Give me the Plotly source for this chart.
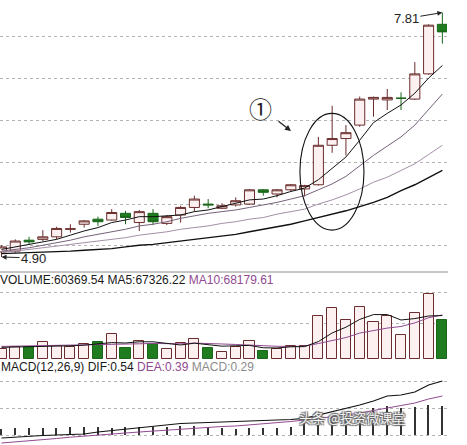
import plotly.graph_objects as go

# ---------------- data ----------------
days = list(range(33))

open_ = [4.96, 4.97, 5.10, 5.11, 5.14, 5.23, 5.29, 5.35, 5.34, 5.42, 5.31, 5.42, 5.30,
         5.40, 5.49, 5.53, 5.48, 5.52, 5.53, 5.70, 5.65, 5.70, 5.71, 5.76, 6.23, 6.31,
         6.47, 6.78, 6.77, 6.79, 6.78, 7.08, 7.67]
close = [5.02, 5.09, 5.08, 5.14, 5.24, 5.235, 5.33, 5.32, 5.43, 5.37, 5.44, 5.32, 5.38,
         5.49, 5.59, 5.52, 5.51, 5.57, 5.70, 5.67, 5.70, 5.76, 5.75, 6.23, 6.31, 6.38,
         6.78, 6.80, 6.80, 6.79, 7.08, 7.66, 7.58]
high = [5.04, 5.11, 5.14, 5.22, 5.26, 5.29, 5.34, 5.38, 5.47, 5.45, 5.46, 5.47, 5.40,
        5.51, 5.63, 5.59, 5.54, 5.61, 5.71, 5.71, 5.71, 5.77, 5.76, 6.33, 6.70, 6.47,
        6.81, 6.81, 6.90, 6.86, 7.22, 7.67, 7.81]
low = [4.90, 4.95, 5.05, 5.09, 5.11, 5.19, 5.25, 5.27, 5.33, 5.29, 5.21, 5.28, 5.28,
       5.31, 5.44, 5.48, 5.47, 5.50, 5.52, 5.63, 5.61, 5.68, 5.62, 5.75, 6.14, 6.11,
       6.45, 6.57, 6.65, 6.65, 6.77, 7.07, 7.44]

ma5 = [4.99, 5.02, 5.05, 5.08, 5.11, 5.16, 5.21, 5.25, 5.31, 5.34, 5.38, 5.38, 5.39,
       5.40, 5.44, 5.46, 5.50, 5.54, 5.58, 5.59, 5.63, 5.68, 5.72, 5.82, 5.95, 6.09,
       6.29, 6.50, 6.61, 6.71, 6.85, 7.03, 7.18]
ma10 = [4.97, 4.99, 5.01, 5.04, 5.07, 5.10, 5.14, 5.17, 5.20, 5.23, 5.27, 5.29, 5.32,
        5.36, 5.39, 5.42, 5.44, 5.46, 5.49, 5.52, 5.55, 5.59, 5.63, 5.70, 5.77, 5.86,
        5.99, 6.11, 6.22, 6.33, 6.47, 6.66, 6.84]
ma20 = [4.96, 4.97, 4.99, 5.01, 5.03, 5.05, 5.07, 5.09, 5.11, 5.13, 5.16, 5.18, 5.20,
        5.23, 5.25, 5.27, 5.30, 5.32, 5.35, 5.37, 5.41, 5.44, 5.47, 5.53, 5.58, 5.64,
        5.71, 5.79, 5.85, 5.93, 6.01, 6.12, 6.23]
ma30 = [4.94, 4.945, 4.95, 4.955, 4.96, 4.97, 4.98, 4.99, 5.00, 5.02, 5.04, 5.05, 5.07,
        5.09, 5.11, 5.13, 5.15, 5.17, 5.20, 5.23, 5.26, 5.29, 5.33, 5.37, 5.41, 5.45,
        5.50, 5.55, 5.61, 5.69, 5.76, 5.85, 5.93]

volume = [15480, 18580, 18580, 26320, 20120, 18580, 23220, 26320, 38700, 17030, 27860,
          23220, 15480, 24770, 30960, 17030, 10840, 18580, 27860, 12380, 15480, 20120,
          20120, 66560, 78950, 60370, 80500, 57280, 66560, 37150, 71210, 100620, 60369.54]
vol_ma5 = [18000, 18500, 18000, 19500, 19820, 20440, 21360, 22910, 25390, 24770, 26630,
           26630, 24460, 21670, 24460, 22290, 19820, 20440, 21050, 17340, 17030, 18880,
           19190, 26930, 40250, 49220, 61300, 68730, 68730, 60370, 62540, 66560, 67326.22]
vol_ma10 = [19500, 19800, 20000, 20500, 20800, 21000, 21300, 21800, 22500, 22290, 23530,
            24000, 23690, 23530, 24610, 24460, 23220, 22450, 21360, 20900, 19660, 19350,
            19810, 23990, 28790, 33130, 40090, 43960, 47830, 50310, 55880, 63930, 68179.61]

dif = [-0.03, -0.02, -0.01, -0.005, 0.0, 0.005, 0.01, 0.03, 0.045, 0.06, 0.07, 0.085,
       0.10, 0.115, 0.12, 0.125, 0.13, 0.133, 0.137, 0.14, 0.145, 0.155, 0.167, 0.20,
       0.23, 0.26, 0.30, 0.34, 0.39, 0.40, 0.43, 0.50, 0.54]
dea = [-0.08, -0.07, -0.055, -0.045, -0.035, -0.022, -0.01, 0.0, 0.01, 0.02, 0.03, 0.04,
       0.05, 0.06, 0.07, 0.075, 0.085, 0.09, 0.10, 0.11, 0.12, 0.135, 0.15, 0.165, 0.18,
       0.20, 0.22, 0.245, 0.27, 0.295, 0.32, 0.36, 0.39]
macd_hist = [0.06, 0.07, 0.07, 0.07, 0.07, 0.08, 0.08, 0.08, 0.07, 0.08, 0.08, 0.08,
             0.08, 0.09, 0.09, 0.08, 0.07, 0.06, 0.07, 0.07, 0.07, 0.08, 0.12, 0.17,
             0.18, 0.20, 0.23, 0.27, 0.29, 0.27, 0.28, 0.30, 0.29]

# ---------------- styles ----------------
UP_LINE, UP_FILL = "#6a2c2c", "#fcf0f1"
DN_LINE, DN_FILL = "#1b661b", "#1f7d1f"
PURPLE = "#914a91"
FONT = "Liberation Sans, Arial, sans-serif"

up = [c >= o for o, c in zip(open_, close)]

fig = go.Figure()

fig.add_trace(go.Candlestick(
    x=days, open=open_, high=high, low=low, close=close,
    increasing=dict(line=dict(color=UP_LINE, width=1), fillcolor=UP_FILL),
    decreasing=dict(line=dict(color=DN_LINE, width=1), fillcolor=DN_FILL),
    whiskerwidth=0, xaxis="x", yaxis="y", hoverinfo="skip", showlegend=False))

for arr, col, w in [(ma30, "#111111", 1.4), (ma20, "#a48fa8", 1.0),
                    (ma10, "#76607a", 1.0), (ma5, "#111111", 1.0)]:
    fig.add_trace(go.Scatter(x=days, y=arr, mode="lines", line=dict(color=col, width=w),
                             xaxis="x", yaxis="y", hoverinfo="skip", showlegend=False))

fig.add_trace(go.Bar(
    x=days, y=volume, width=0.74,
    marker=dict(color=[UP_FILL if u else DN_FILL for u in up],
                line=dict(color=[UP_LINE if u else DN_LINE for u in up], width=1)),
    xaxis="x2", yaxis="y2", hoverinfo="skip", showlegend=False))
fig.add_trace(go.Scatter(x=days, y=vol_ma10, mode="lines", line=dict(color=PURPLE, width=1),
                         xaxis="x2", yaxis="y2", hoverinfo="skip", showlegend=False))
fig.add_trace(go.Scatter(x=days, y=vol_ma5, mode="lines", line=dict(color="#111111", width=1),
                         xaxis="x2", yaxis="y2", hoverinfo="skip", showlegend=False))

fig.add_trace(go.Bar(x=days, y=macd_hist, width=0.1, marker=dict(color="#333333", line=dict(width=0)),
                     xaxis="x3", yaxis="y3", hoverinfo="skip", showlegend=False))
fig.add_trace(go.Scatter(x=days, y=dea, mode="lines", line=dict(color=PURPLE, width=1),
                         xaxis="x3", yaxis="y3", hoverinfo="skip", showlegend=False))
fig.add_trace(go.Scatter(x=days, y=dif, mode="lines", line=dict(color="#111111", width=1.2),
                         xaxis="x3", yaxis="y3", hoverinfo="skip", showlegend=False))

xr = [-0.109, 32.33]
xdom = [0, 0.957]
xcommon = dict(range=xr, domain=xdom, showticklabels=False, showgrid=False,
               zeroline=False, showline=False, fixedrange=True)
ycommon = dict(showticklabels=False, showgrid=True, gridcolor="#b4b4b4", griddash="dot",
               gridwidth=1, zeroline=False, showline=False, fixedrange=True, tickmode="array")

fig.update_layout(
    width=467, height=445, margin=dict(l=0, r=0, t=0, b=0),
    paper_bgcolor="white", plot_bgcolor="white", showlegend=False, bargap=0,
    boxgap=0.27, boxgroupgap=0,
    xaxis=dict(**xcommon, anchor="y", rangeslider=dict(visible=False)),
    xaxis2=dict(**xcommon, anchor="y2", matches="x"),
    xaxis3=dict(**xcommon, anchor="y3", matches="x"),
    yaxis=dict(**ycommon, domain=[0.38876, 1], range=[4.7214, 7.9595],
               tickvals=[5.04, 5.53, 6.03, 6.52, 7.02, 7.52]),
    yaxis2=dict(**ycommon, domain=[0.1933, 0.3573], range=[0, 113000],
                tickvals=[54200, 102200]),
    yaxis3=dict(**ycommon, domain=[0, 0.16404], range=[-0.10, 0.63],
                tickvals=[0, 0.27, 0.533]),
    font=dict(family=FONT, size=12, color="#1a1a1a"),
)

# separator line under price panel
fig.add_shape(type="line", xref="paper", yref="paper", x0=0, x1=0.959, y0=0.38876, y1=0.38876,
              line=dict(color="#8c8c8c", width=1))

# ellipse highlighting the breakout
fig.add_shape(type="circle", xref="x", yref="y", x0=21.66, x1=26.31, y0=5.22, y1=6.61,
              line=dict(color="#111111", width=1.1))

imax = high.index(max(high))
imin = low.index(min(low))

annotations = [
    dict(x=imax, y=high[imax], xref="x", yref="y", text=f"{max(high):.2f}", showarrow=True,
         ax=-36, ay=6, arrowhead=2, arrowsize=1, arrowwidth=1, arrowcolor="#222",
         font=dict(size=13, color="#222", family=FONT)),
    dict(x=imin, y=low[imin], xref="x", yref="y", text=f"{min(low):.2f}", showarrow=True,
         ax=32, ay=1, arrowhead=2, arrowsize=1, arrowwidth=1, arrowcolor="#222",
         font=dict(size=13, color="#222", family=FONT)),
    dict(x=18.83, y=6.674, xref="x", yref="y", text="①", showarrow=False,
         font=dict(size=23, color="#222", family="Noto Sans CJK SC")),
    dict(x=21.01, y=6.40, xref="x", yref="y", text="", showarrow=True, ax=-14, ay=-11,
         arrowhead=2, arrowsize=1, arrowwidth=1.2, arrowcolor="#222"),
    dict(x=-2 / 467, y=1 - 280 / 445, xref="paper", yref="paper", xanchor="left", yanchor="middle",
         showarrow=False, align="left",
         text="VOLUME:60369.54 MA5:67326.22 <span style='color:%s'>MA10:68179.61</span>" % PURPLE,
         font=dict(size=12, color="#1a1a1a", family=FONT)),
    dict(x=-1 / 467, y=1 - 367 / 445, xref="paper", yref="paper", xanchor="left", yanchor="middle",
         showarrow=False, align="left",
         text="MACD(12,26,9) DIF:0.54 <span style='color:%s'>DEA:0.39</span> "
              "<span style='color:#8c8c8c'>MACD:0.29</span>" % PURPLE,
         font=dict(size=12, color="#1a1a1a", family=FONT)),
    dict(x=407 / 467, y=1 - 429 / 445, xref="paper", yref="paper", showarrow=False,
         text="头条 @投资微课堂",
         font=dict(size=13, color="#f4f4f4", family="Noto Sans CJK SC",
                   shadow="1px 1px 1px #666, -1px -1px 1px #666, 1px -1px 1px #666, -1px 1px 1px #666")),
]
fig.update_layout(annotations=annotations)

fig.write_html("out.html", config={"displayModeBar": False},
               post_script="document.body.style.margin='0';document.body.style.overflow='hidden';")
